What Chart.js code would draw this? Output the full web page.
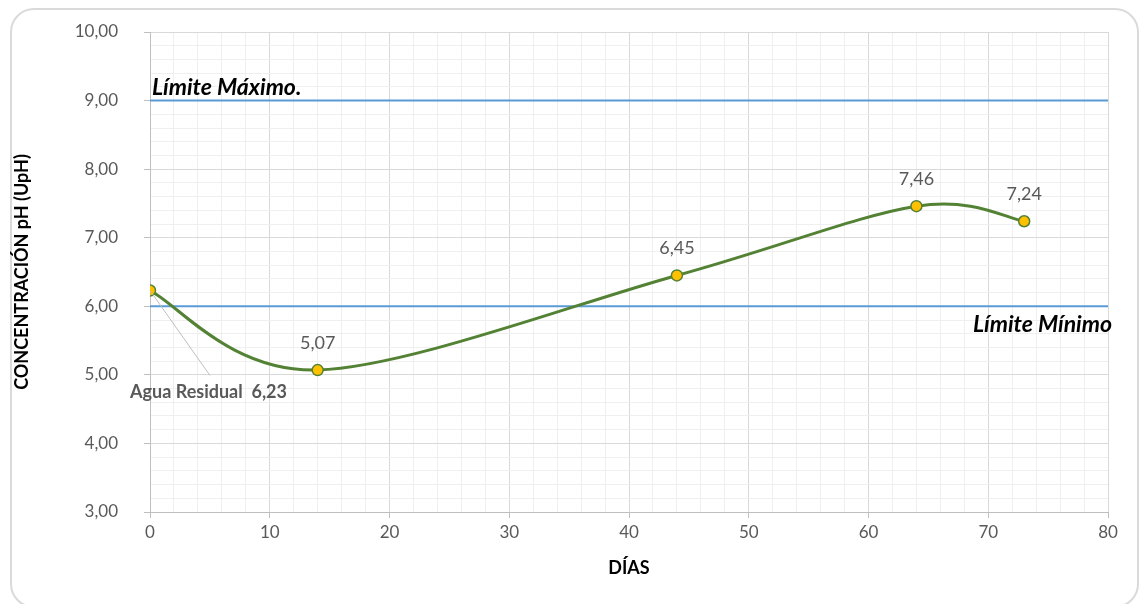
<!DOCTYPE html>
<html>
<head>
<meta charset="utf-8">
<script src="https://cdn.jsdelivr.net/npm/chart.js@4/dist/chart.umd.min.js"></script>
<style>
    html, body { margin: 0; padding: 0; background: #fff; overflow: hidden; }
    #marco {
        position: absolute; left: 10px; top: 8px; width: 1129px; height: 600px;
        border: 2px solid #dadada; border-radius: 24px; box-sizing: border-box;
    }
    #grafico { position: absolute; left: 0; top: 0; }
</style>
</head>
<body>
<div id="marco"></div>
<canvas id="grafico" width="1141" height="604"></canvas>
<script>
// Datos de pH por día
const dias = [0, 14, 44, 64, 73];
const concentracion = [6.23, 5.07, 6.45, 7.46, 7.24];

// Límites permitidos
const limiteMaximo = 9;
const limiteMinimo = 6;
const rangoDias = [0, 80];

// Ejes
const ejeYMin = 3;
const ejeYMax = 10;
const pasoY = 0.2;
const pasoX = 2;

const fuente = "Lato, 'Open Sans', sans-serif";
const gris = "#595959";

const esEntero = (v, paso) => Math.abs(v / paso - Math.round(v / paso)) < 1e-6;
const formatoComa = (v) => v.toFixed(2).replace(".", ",");

// Suavizado tipo Excel: puntos de control a 1/6 de (siguiente - anterior)
const suavizadoPlugin = {
    id: "suavizado",
    beforeDatasetDraw(chart, args) {
        if (args.index !== 0) return;
        const line = args.meta.dataset;
        const pts = args.meta.data;
        line.updateControlPoints(chart.chartArea, "x");
        pts.forEach((p, i) => {
            const prev = pts[i - 1] || p;
            const next = pts[i + 1] || p;
            const dx = (next.x - prev.x) / 6;
            const dy = (next.y - prev.y) / 6;
            p.cp1x = p.x - dx;
            p.cp1y = p.y - dy;
            p.cp2x = p.x + dx;
            p.cp2y = p.y + dy;
        });
        delete line._path;
    },
};

// Etiquetas de datos y textos de límites
const etiquetasPlugin = {
    id: "etiquetas",
    afterDatasetsDraw(chart) {
        const { ctx, scales } = chart;
        const x = scales.x, y = scales.y;
        const meta = chart.getDatasetMeta(0);
        ctx.save();

        // valores sobre los puntos (excepto el primero)
        ctx.font = "18px " + fuente;
        ctx.fillStyle = gris;
        ctx.textAlign = "center";
        ctx.textBaseline = "middle";
        meta.data.forEach((pt, i) => {
            if (i === 0) return;
            ctx.fillText(formatoComa(concentracion[i]), pt.x, pt.y - 27);
        });

        // etiqueta Agua Residual con línea guía
        const p0 = meta.data[0];
        ctx.strokeStyle = "#bfbfbf";
        ctx.lineWidth = 1;
        ctx.beginPath();
        ctx.moveTo(p0.x, p0.y);
        ctx.lineTo(p0.x + 60, p0.y + 85);
        ctx.stroke();
        ctx.font = "bold 18px " + fuente;
        ctx.textAlign = "left";
        ctx.fillText("Agua Residual  " + formatoComa(concentracion[0]), p0.x - 20, p0.y + 102);

        // textos de límites
        ctx.fillStyle = "#000";
        ctx.font = "italic bold 23px " + fuente;
        ctx.textAlign = "left";
        ctx.fillText("Límite Máximo.", x.getPixelForValue(rangoDias[0]) + 2, y.getPixelForValue(limiteMaximo) - 13);
        ctx.textAlign = "right";
        ctx.fillText("Límite Mínimo", x.getPixelForValue(rangoDias[1]) + 4, y.getPixelForValue(limiteMinimo) + 18);
        ctx.restore();
    },
};

const canvas = document.getElementById("grafico");

const config = {
    type: "line",
    data: {
        datasets: [
            {
                label: "pH",
                data: dias.map((d, i) => ({ x: d, y: concentracion[i] })),
                borderColor: "#548235",
                borderWidth: 3,
                tension: 0.4,
                pointRadius: 5.5,
                pointBackgroundColor: "#ffc000",
                pointBorderColor: "#548235",
                pointBorderWidth: 1.5,
                order: 0,
            },
            {
                label: "Límite Máximo",
                data: rangoDias.map((d) => ({ x: d, y: limiteMaximo })),
                borderColor: "#5b9bd5",
                borderWidth: 2,
                pointRadius: 0,
                order: 1,
            },
            {
                label: "Límite Mínimo",
                data: rangoDias.map((d) => ({ x: d, y: limiteMinimo })),
                borderColor: "#5b9bd5",
                borderWidth: 2,
                pointRadius: 0,
                order: 1,
            },
        ],
    },
    options: {
        responsive: false,
        animation: false,
        layout: { padding: { left: 0, right: 33, top: 32, bottom: 0 } },
        plugins: {
            legend: { display: false },
            tooltip: { enabled: false },
        },
        scales: {
            x: {
                type: "linear",
                min: rangoDias[0],
                max: rangoDias[1],
                afterFit: (s) => { s.height = 92; },
                ticks: {
                    stepSize: pasoX,
                    autoSkip: false,
                    maxRotation: 0,
                    padding: 4,
                    color: gris,
                    font: { family: fuente, size: 17 },
                    callback: (v) => (esEntero(v, 10) ? v : ""),
                },
                grid: {
                    tickLength: 6,
                    color: (c) => (esEntero(c.tick.value, 10) ? "#d9d9d9" : "#efefef"),
                    tickColor: (c) => (esEntero(c.tick.value, 10) ? "#bfbfbf" : "rgba(0,0,0,0)"),
                },
                border: { color: "#bfbfbf" },
                title: {
                    display: true,
                    text: "DÍAS",
                    color: "#000",
                    font: { family: fuente, size: 18, weight: "bold" },
                    padding: { top: 0, bottom: 25 },
                },
            },
            y: {
                min: ejeYMin,
                max: ejeYMax,
                afterFit: (s) => {
                    s.width = 150;
                    s.paddingTop = 0;
                    s.paddingBottom = 0;
                },
                ticks: {
                    stepSize: pasoY,
                    autoSkip: false,
                    padding: 26,
                    color: gris,
                    font: { family: fuente, size: 17 },
                    callback: (v) => (esEntero(v, 1) ? formatoComa(v) : ""),
                },
                grid: {
                    tickLength: 6,
                    color: (c) => (esEntero(c.tick.value, 1) ? "#d9d9d9" : "#efefef"),
                    tickColor: (c) => (esEntero(c.tick.value, 1) ? "#bfbfbf" : "rgba(0,0,0,0)"),
                },
                border: { color: "#bfbfbf" },
                title: {
                    display: true,
                    text: "CONCENTRACIÓN pH (UpH)",
                    color: "#000",
                    font: { family: fuente, size: 18, weight: "bold" },
                    padding: { top: 11, bottom: 0 },
                },
            },
        },
    },
    plugins: [suavizadoPlugin, etiquetasPlugin],
};

canvas.chart = new Chart(canvas, config);
</script>
</body>
</html>
